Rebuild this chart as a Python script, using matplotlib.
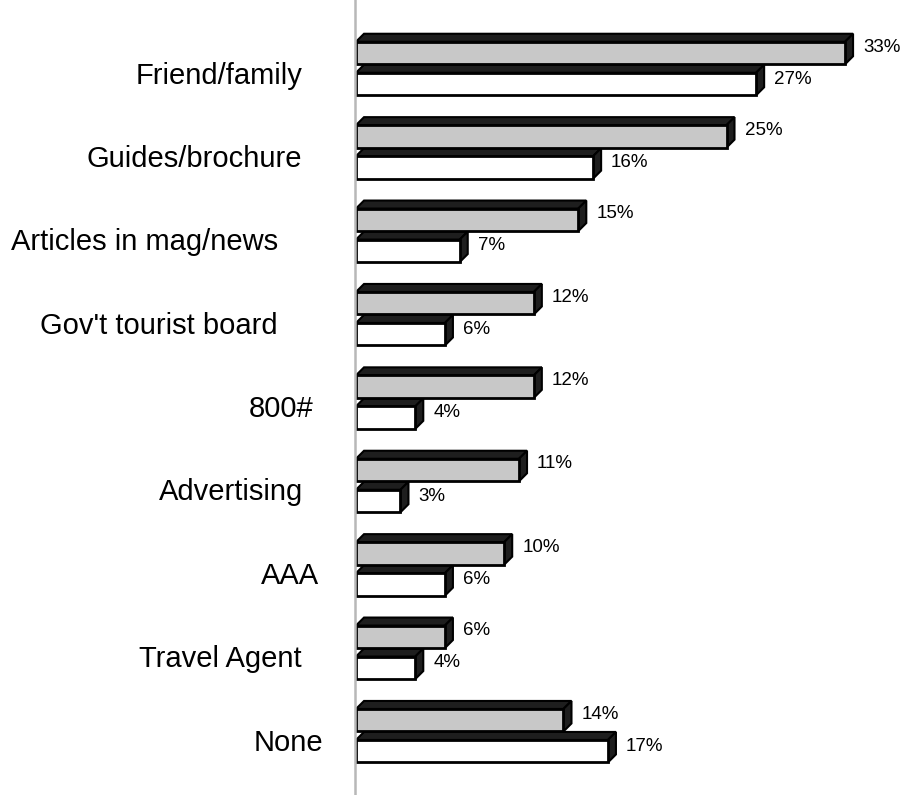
import matplotlib
matplotlib.use("Agg")
import matplotlib.pyplot as plt
from matplotlib.patches import Polygon

plt.rcParams['font.family'] = ['Liberation Sans', 'DejaVu Sans']

# Sources of travel information (percent of respondents)
categories = ["Friend/family", "Guides/brochure", "Articles in mag/news",
              "Gov't tourist board", "800#", "Advertising", "AAA",
              "Travel Agent", "None"]
series_gray = [33, 25, 15, 12, 12, 11, 10, 6, 14]
series_white = [27, 16, 7, 6, 4, 3, 6, 4, 17]
value_labels_gray = [f"{v}%" for v in series_gray]
value_labels_white = [f"{v}%" for v in series_white]

# Right edge (in figure pixels) of each category label
label_right_px = [302, 302, 278, 278, 313, 303, 319, 302, 323]

W, H = 905, 795
fig = plt.figure(figsize=(W / 100, H / 100), dpi=100)

x0_px = 356.0
px_per_unit_x = 14.82
cat_top_px = 68.5
px_per_cat = 83.4

ax = fig.add_axes([x0_px / W, 0, 1 - x0_px / W, 1])
ax.set_xlim(0, (W - x0_px) / px_per_unit_x)
ax.set_ylim((H - cat_top_px) / px_per_cat, (0 - cat_top_px) / px_per_cat)
ax.axis('off')

depth_px = 8.0
dx = depth_px / px_per_unit_x
dy = depth_px / px_per_cat
bar_h = 22.5 / px_per_cat
offset = 15.5 / px_per_cat

dark = "#1e1e1e"


def bar3d(val, yc, face):
    top, bot = yc - bar_h / 2, yc + bar_h / 2
    # top face
    ax.add_patch(Polygon([(0, top), (val, top), (val + dx, top - dy), (dx, top - dy)],
                         closed=True, facecolor=dark, edgecolor="black", lw=1.5,
                         joinstyle='miter', zorder=2))
    # side face
    ax.add_patch(Polygon([(val, top), (val + dx, top - dy), (val + dx, bot - dy), (val, bot)],
                         closed=True, facecolor=dark, edgecolor="black", lw=1.5,
                         joinstyle='miter', zorder=2))
    # front face
    ax.add_patch(Polygon([(0, top), (val, top), (val, bot), (0, bot)],
                         closed=True, facecolor=face, edgecolor="black", lw=2.0,
                         joinstyle='miter', zorder=3))


for i, cat in enumerate(categories):
    yg = i - offset
    yw = i + offset
    bar3d(series_gray[i], yg, "#c8c8c8")
    bar3d(series_white[i], yw, "white")
    ax.text(series_gray[i] + dx + 10 / px_per_unit_x, yg - 6 / px_per_cat,
            value_labels_gray[i], fontsize=13.5, va='center', ha='left')
    ax.text(series_white[i] + dx + 10 / px_per_unit_x, yw - 5 / px_per_cat,
            value_labels_white[i], fontsize=13.5, va='center', ha='left')
    fig.text(label_right_px[i] / W, 1 - (cat_top_px + px_per_cat * i + 7) / H, cat,
             fontsize=21, ha='right', va='center')

# vertical category axis line
fig.add_artist(plt.Line2D([355 / W, 355 / W], [0, 1], color="#b8b8b8", lw=1.8))

fig.savefig("out.png", dpi=100)
